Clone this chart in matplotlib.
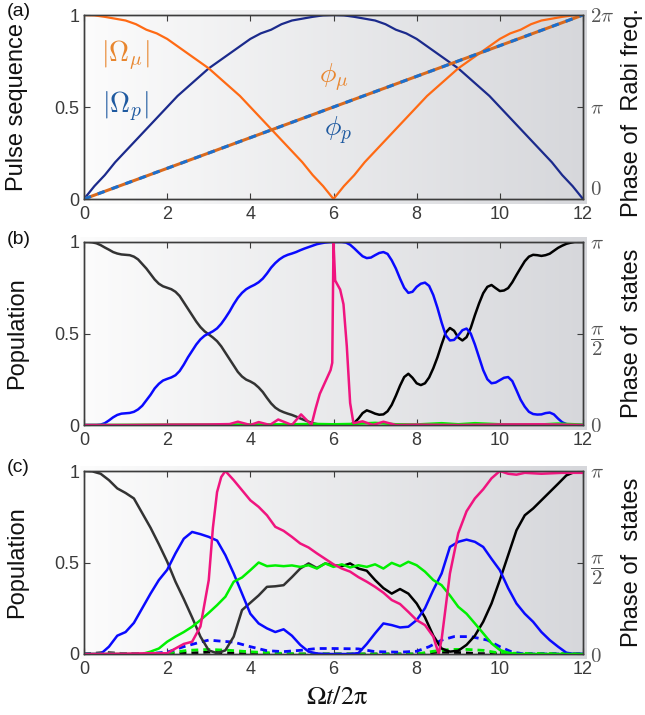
import numpy as np
import matplotlib
matplotlib.use('Agg')
from matplotlib import pyplot as plt

plt.rcParams['font.family'] = ['Liberation Sans', 'DejaVu Sans']

# (a) pulse amplitudes on a 0.25 grid, and linear phase ramps
t_a = np.arange(0, 12.01, 0.25)
omega_mu = [1.0, 0.998, 0.99, 0.98, 0.97, 0.95, 0.92, 0.9, 0.87, 0.83, 0.79, 0.75, 0.71,
            0.66, 0.61, 0.56, 0.5, 0.44, 0.38, 0.32, 0.26, 0.2, 0.13, 0.07, 0.0,
            0.07, 0.13, 0.2, 0.26, 0.32, 0.38, 0.44, 0.5, 0.56, 0.61, 0.66, 0.71,
            0.75, 0.79, 0.83, 0.87, 0.9, 0.92, 0.95, 0.97, 0.98, 0.99, 0.998, 1.0]
omega_p = [0.0, 0.07, 0.13, 0.2, 0.26, 0.32, 0.38, 0.44, 0.5, 0.56, 0.61, 0.66, 0.71,
           0.75, 0.79, 0.83, 0.87, 0.9, 0.92, 0.95, 0.97, 0.98, 0.99, 0.998, 1.0,
           0.998, 0.99, 0.98, 0.97, 0.95, 0.92, 0.9, 0.87, 0.83, 0.79, 0.75, 0.71,
           0.66, 0.61, 0.56, 0.5, 0.44, 0.38, 0.32, 0.26, 0.2, 0.13, 0.07, 0.0]
phase_t = [0, 12]
phase_mu = [0, 2 * np.pi]
phase_p = [0, 2 * np.pi]

# (b) populations on a 0.1 grid
t_fine = np.round(np.arange(0, 12.01, 0.1), 1)
pop_b_black = [1.0, 1.0, 0.998, 0.993, 0.983, 0.97, 0.958, 0.945, 0.937, 0.932,
               0.93, 0.928, 0.92, 0.905, 0.88, 0.855, 0.825, 0.795, 0.772, 0.758,
               0.75, 0.742, 0.728, 0.705, 0.67, 0.635, 0.6, 0.565, 0.535, 0.512,
               0.495, 0.478, 0.458, 0.43, 0.395, 0.36, 0.325, 0.29, 0.265, 0.248,
               0.238, 0.225, 0.205, 0.18, 0.148, 0.118, 0.095, 0.08, 0.07, 0.062,
               0.055, 0.046, 0.036, 0.027, 0.018, 0.01, 0.005, 0.002, 0.0, 0.0,
               0.0, 0.0, 0.0, 0.0, 0.002, 0.012, 0.035, 0.065, 0.08, 0.072,
               0.062, 0.056, 0.058, 0.075, 0.11, 0.16, 0.215, 0.262, 0.28, 0.258,
               0.228, 0.218, 0.228, 0.26, 0.31, 0.37, 0.44, 0.505, 0.53, 0.515,
               0.478, 0.462, 0.48, 0.53, 0.6, 0.664, 0.72, 0.755, 0.765, 0.748,
               0.732, 0.735, 0.748, 0.78, 0.82, 0.858, 0.895, 0.92, 0.93, 0.928,
               0.924, 0.928, 0.936, 0.952, 0.968, 0.98, 0.99, 0.996, 1.0, 1.0,
               1.0]
pop_b_blue = [0.0, 0.0, 0.0, 0.0, 0.002, 0.01, 0.025, 0.042, 0.055, 0.062,
              0.064, 0.066, 0.072, 0.085, 0.105, 0.135, 0.165, 0.2, 0.225, 0.243,
              0.252, 0.26, 0.272, 0.295, 0.33, 0.37, 0.405, 0.44, 0.468, 0.488,
              0.5, 0.512, 0.528, 0.553, 0.585, 0.62, 0.66, 0.695, 0.722, 0.742,
              0.755, 0.766, 0.78, 0.8, 0.828, 0.86, 0.885, 0.905, 0.92, 0.93,
              0.937, 0.945, 0.955, 0.964, 0.972, 0.98, 0.988, 0.993, 0.997, 0.999,
              1.0, 1.0, 1.0, 0.997, 0.985, 0.965, 0.943, 0.922, 0.912, 0.915,
              0.928, 0.94, 0.945, 0.935, 0.9, 0.855, 0.8, 0.75, 0.722, 0.728,
              0.755, 0.772, 0.778, 0.76, 0.71, 0.64, 0.56, 0.49, 0.462, 0.465,
              0.49, 0.518, 0.527, 0.5, 0.44, 0.37, 0.3, 0.25, 0.228, 0.232,
              0.245, 0.258, 0.262, 0.24, 0.19, 0.138, 0.1, 0.072, 0.06, 0.057,
              0.058, 0.065, 0.068, 0.058, 0.035, 0.015, 0.005, 0.001, 0.0, 0.0,
              0.0]
t_b_pink = [0, 1, 2, 3, 3.5, 3.7, 4.0, 4.2, 4.47, 4.67, 5.0, 5.22, 5.47, 5.57, 5.67,
            5.83, 5.93, 5.97, 6.0, 6.04, 6.16, 6.24, 6.32, 6.4, 6.48, 6.7, 6.95,
            7.2, 7.5, 8, 9, 10, 11, 12]
pop_b_pink = [0.0, 0.0, 0.002, 0.003, 0.005, 0.018, 0.0, 0.016, 0.0, 0.03, 0.0, 0.058,
              0.0, 0.09, 0.17, 0.25, 0.3, 0.34, 1.0, 0.79, 0.74, 0.66, 0.43, 0.12,
              0.01, 0.02, 0.0, 0.018, 0.0, 0.002, 0.0, 0.003, 0.004, 0.0]
t_b_green = [0, 2, 4, 5, 5.5, 6, 6.5, 7.0, 7.5, 8.0, 8.6, 9.0, 9.4, 10, 11, 11.4, 12]
pop_b_green = [0.0, 0.002, 0.003, 0.004, 0.006, 0.004, 0.006, 0.012, 0.004, 0.003,
               0.01, 0.004, 0.01, 0.004, 0.003, 0.008, 0.002]

# (c) populations on a 0.2 grid
t_grid = np.round(np.arange(0, 12.01, 0.2), 1)
pop_c_black = [1.0, 0.998, 0.985, 0.95, 0.905, 0.88, 0.85, 0.77, 0.69, 0.6,
               0.505, 0.395, 0.3, 0.2, 0.095, 0.02, 0.004, 0.02, 0.095, 0.24,
               0.28, 0.32, 0.367, 0.37, 0.376, 0.42, 0.467, 0.495, 0.47, 0.495,
               0.485, 0.48, 0.495, 0.467, 0.455, 0.404, 0.36, 0.33, 0.355, 0.33,
               0.276, 0.2, 0.1, 0.03, 0.013, 0.018, 0.05, 0.1, 0.176, 0.276,
               0.404, 0.54, 0.676, 0.758, 0.795, 0.84, 0.885, 0.93, 0.976, 0.995, 1.0]
pop_c_blue = [0.0, 0.0, 0.0, 0.04, 0.1, 0.12, 0.17, 0.25, 0.33, 0.404,
              0.46, 0.55, 0.63, 0.667, 0.655, 0.64, 0.62, 0.54, 0.44, 0.33,
              0.22, 0.167, 0.14, 0.12, 0.135, 0.1, 0.05, 0.013, 0.003, 0.0,
              0.0, 0.0, 0.0, 0.005, 0.055, 0.113, 0.167, 0.158, 0.145, 0.149,
              0.185, 0.25, 0.35, 0.44, 0.585, 0.613, 0.625, 0.613, 0.585, 0.52,
              0.458, 0.36, 0.276, 0.22, 0.176, 0.12, 0.076, 0.04, 0.007, 0.0, 0.0]
pop_c_green = [0.0, 0.0, 0.0, 0.0, 0.0, 0.0, 0.0, 0.0, 0.013, 0.03,
               0.067, 0.095, 0.12, 0.149, 0.185, 0.225, 0.267, 0.313, 0.395, 0.418,
               0.458, 0.5, 0.48, 0.484, 0.48, 0.484, 0.476, 0.485, 0.467, 0.495,
               0.476, 0.49, 0.473, 0.485, 0.476, 0.49, 0.467, 0.498, 0.48, 0.504,
               0.485, 0.45, 0.404, 0.376, 0.32, 0.258, 0.22, 0.167, 0.113, 0.058,
               0.022, 0.007, 0.0, 0.0, 0.0, 0.0, 0.0, 0.0, 0.0, 0.0, 0.0]
t_c_pink = [0, 1, 1.5, 2.0, 2.2, 2.4, 2.6, 2.8, 3.0, 3.1, 3.2, 3.3, 3.4, 3.6, 3.8,
            4.0, 4.2, 4.4, 4.6, 4.8, 5.0, 5.2, 5.4, 5.6, 5.8, 6.0, 6.2, 6.4, 6.6,
            6.8, 7.0, 7.2, 7.4, 7.6, 7.8, 8.0, 8.2, 8.4, 8.53, 8.6, 8.7, 8.8, 9.0,
            9.2, 9.4, 9.6, 9.8, 10.0, 10.2, 10.4, 10.6, 11.0, 11.5, 12.0]
pop_c_pink = [0.0, 0.002, 0.004, 0.004, 0.03, 0.055, 0.067, 0.15, 0.404, 0.69,
              0.885, 0.967, 1.0, 0.95, 0.895, 0.84, 0.804, 0.758, 0.695, 0.673,
              0.64, 0.604, 0.582, 0.55, 0.52, 0.49, 0.467, 0.45, 0.42, 0.395,
              0.367, 0.335, 0.295, 0.273, 0.23, 0.185, 0.158, 0.095, 0.0, 0.08,
              0.26, 0.44, 0.66, 0.78, 0.85, 0.9, 0.96, 1.0, 0.985, 0.98,
              0.99, 0.985, 0.99, 0.99]
t_c_blue_dash = [0, 1.5, 2.0, 2.4, 2.8, 3.0, 3.3, 3.6, 4.0, 4.4, 4.8, 5.2, 5.6, 6.0,
                 6.6, 7.0, 7.6, 8.0, 8.3, 8.6, 8.9, 9.3, 9.7, 10.0, 10.3, 10.6, 12]
pop_c_blue_dash = [0.0, 0.0, 0.01, 0.04, 0.065, 0.076, 0.07, 0.065, 0.04, 0.018,
                   0.013, 0.02, 0.03, 0.03, 0.028, 0.013, 0.01, 0.015, 0.04, 0.076,
                   0.095, 0.095, 0.076, 0.04, 0.01, 0.0, 0.0]
t_c_green_dash = [0, 2.0, 2.5, 3.0, 3.5, 4.0, 4.6, 5.2, 8.0, 8.4, 8.8, 9.2, 9.6, 10.0, 12]
pop_c_green_dash = [0.0, 0.005, 0.02, 0.025, 0.02, 0.012, 0.005, 0.0, 0.0, 0.015,
                    0.025, 0.025, 0.02, 0.005, 0.0]
t_c_black_dash = [0, 0.5, 1, 2.5, 3.0, 3.5, 4, 8, 8.5, 9, 9.5, 12]
pop_c_black_dash = [0.0, 0.008, 0.002, 0.005, 0.01, 0.005, 0.0, 0.0, 0.01, 0.008, 0.002, 0.0]

x_ticks = [0, 2, 4, 6, 8, 10, 12]
left_ticks = [0, 0.5, 1]
left_ticklabels = ['0', '0.5', '1']

BLUE = '#0a0aff'
PINK = '#f0147f'
GREEN = '#00f000'
EDGE = '#3c3c3c'

W, H = 645, 715
fig = plt.figure(figsize=(W / 100, H / 100), dpi=100)


def make_panel(top_px, bottom_px, left_px=84, right_px=583):
    l, r = left_px / W, right_px / W
    b, t = 1 - bottom_px / H, 1 - top_px / H
    # grey shading behind the axes, a few pixels wider than the box
    pad_x, pad_y = 4 / W, 5 / H
    bg = fig.add_axes([l - pad_x, b - pad_y, r - l + 2 * pad_x, t - b + 2 * pad_y], zorder=-1)
    ramp = np.linspace(0, 1, 256)[:, None]
    c0 = np.array([252, 252, 252]) / 255
    c1 = np.array([214, 215, 219]) / 255
    bg.imshow((c0 + (c1 - c0) * ramp)[None, :, :], aspect='auto',
              extent=(0, 1, 0, 1), interpolation='bilinear')
    bg.axis('off')

    ax = fig.add_axes([l, b, r - l, t - b])
    ax.patch.set_alpha(0)
    ax.set_xlim(0, 12)
    ax.set_ylim(0, 1)
    ax.set_xticks(x_ticks)
    ax.set_xticklabels([str(v) for v in x_ticks])
    ax.set_yticks(left_ticks)
    ax.set_yticklabels(left_ticklabels)
    ax.tick_params(axis='both', direction='in', top=True, length=4, width=0.8,
                   color=EDGE, labelcolor='#3a3a3a', labelsize=13)
    ax.tick_params(axis='x', pad=5)
    for s in ax.spines.values():
        s.set_color(EDGE)
        s.set_linewidth(1.0)
    ax2 = ax.twinx()
    ax2.tick_params(axis='y', direction='in', length=4, width=0.8, pad=5,
                    color=EDGE, labelcolor='#555555', labelsize=15)
    for s in ax2.spines.values():
        s.set_color(EDGE)
        s.set_linewidth(1.0)
    return ax, ax2


def split_black(ax, t, y, lw=1.8):
    t = np.asarray(t)
    y = np.asarray(y)
    first = t <= 6
    second = t >= 6
    ax.plot(t[first], y[first], color='#333333', lw=lw, zorder=3)
    ax.plot(t[second], y[second], color='#000000', lw=lw, zorder=3)


# ---- (a) ----
ax_a, ax_a2 = make_panel(15, 199)
ax_a.plot(t_a, omega_p, color='#1b2a8c', lw=1.6, zorder=3)
ax_a.plot(t_a, omega_mu, color='#ff6a14', lw=1.6, zorder=3)
ax_a2.set_ylim(0, 2 * np.pi)
ax_a2.plot(phase_t, phase_mu, color='#d96a1e', lw=2.2, solid_capstyle='butt')
ax_a2.plot(phase_t, phase_p, color='#1a6fcf', lw=2.2, dashes=(2.4, 2.4))
ax_a2.set_yticks([0, np.pi, 2 * np.pi])
ax_a2.set_yticklabels([r'$0$', r'$\pi$', r'$2\pi$'], math_fontfamily='cm')
ax_a2.yaxis.get_major_ticks()[0].label2.set_verticalalignment('bottom')
ax_a.text(0.99, 0.78, r'$|\Omega_\mu|$', color='#e8862e', fontsize=20,
          math_fontfamily='cm', ha='center', va='center')
ax_a.text(0.99, 0.5, r'$|\Omega_p|$', color='#1f5aa0', fontsize=20,
          math_fontfamily='cm', ha='center', va='center')
ax_a.text(6.0, 0.66, r'$\phi_\mu$', color='#e8862e', fontsize=20,
          math_fontfamily='cm', ha='center', va='center')
ax_a.text(6.1, 0.37, r'$\phi_p$', color='#1f5aa0', fontsize=20,
          math_fontfamily='cm', ha='center', va='center')

# ---- (b) ----
ax_b, ax_b2 = make_panel(242, 425)
split_black(ax_b, t_fine, pop_b_black)
ax_b.plot(t_fine, pop_b_blue, color=BLUE, lw=1.8, zorder=3)
ax_b.plot(t_b_green, pop_b_green, color=GREEN, lw=1.8, zorder=3)
ax_b.plot(t_b_pink, pop_b_pink, color=PINK, lw=1.8, zorder=4)

# ---- (c) ----
ax_c, ax_c2 = make_panel(471, 654)
ax_c.plot(t_c_black_dash, pop_c_black_dash, color='#000000', lw=2.0, dashes=(2.5, 1.8), zorder=2)
ax_c.plot(t_c_green_dash, pop_c_green_dash, color=GREEN, lw=2.0, dashes=(2.5, 1.8), zorder=2)
ax_c.plot(t_c_blue_dash, pop_c_blue_dash, color=BLUE, lw=2.0, dashes=(2.5, 1.8), zorder=2)
split_black(ax_c, t_grid, pop_c_black)
ax_c.plot(t_grid, pop_c_blue, color=BLUE, lw=1.8, zorder=3)
ax_c.plot(t_grid, pop_c_green, color=GREEN, lw=1.8, zorder=3)
ax_c.plot(t_c_pink, pop_c_pink, color=PINK, lw=1.8, zorder=4)

for ax2 in (ax_b2, ax_c2):
    ax2.set_ylim(0, np.pi)
    ax2.set_yticks([0, np.pi / 2, np.pi])
    ax2.set_yticklabels([r'$0$', r'$\dfrac{\pi}{2}$', r'$\pi$'], math_fontfamily='cm')

# labels
lab = dict(fontsize=17, color='#111111', rotation=90, ha='center', va='center')
fig.text(17 / W, 1 - 107 / H, 'Pulse sequence', **lab)
fig.text(17 / W, 1 - 333 / H, 'Population', **lab)
fig.text(17 / W, 1 - 562 / H, 'Population', **lab)
fig.text(632 / W, 1 - 113 / H, 'Phase of  Rabi freq.', **lab)
fig.text(632 / W, 1 - 333 / H, 'Phase of  states', **lab)
fig.text(632 / W, 1 - 562 / H, 'Phase of  states', **lab)

for txt, y in (('(a)', 12), ('(b)', 240), ('(c)', 468)):
    fig.text(7 / W, 1 - y / H, txt, fontsize=14, color='#111111', ha='left', va='center')

fig.text(337 / W, 1 - 697 / H, r'$\Omega t/2\mathrm{\pi}$', fontsize=19,
         math_fontfamily='stix', color='#111111', ha='center', va='center')

fig.savefig('out.png', dpi=100)
